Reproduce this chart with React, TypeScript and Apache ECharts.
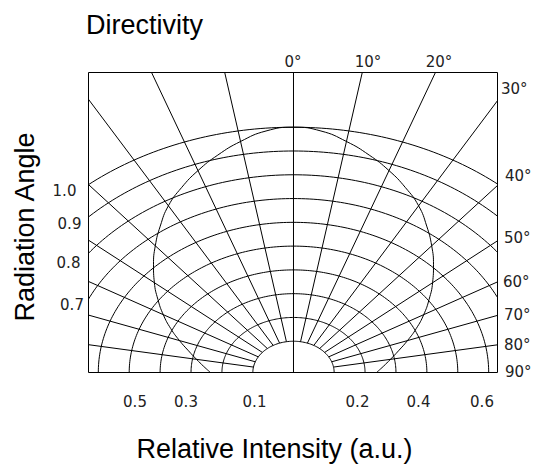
import React, { useEffect, useRef } from "react";
import * as echarts from "echarts";

// ---- data ----
const RING_VALUES = [0.1, 0.2, 0.3, 0.4, 0.5, 0.6, 0.7, 0.8, 0.9, 1.0];
const RAY_ANGLES = [-80, -70, -60, -50, -40, -30, -20, -10, 0, 10, 20, 30, 40, 50, 60, 70, 80];
const PATTERN_ANGLES = [
  -90, -85, -80, -75, -70, -65, -60, -55, -50, -45, -40, -35, -30, -25, -20, -15, -10, -5,
  0, 5, 10, 15, 20, 25, 30, 35, 40, 45, 50, 55, 60, 65, 70, 75, 80, 85, 90,
];
const PATTERN_VALUES = [
  0.237, 0.26, 0.287, 0.32, 0.361, 0.407, 0.455, 0.504, 0.556, 0.609, 0.664, 0.72, 0.778, 0.826, 0.872, 0.915, 0.955, 0.988,
  1.0, 0.988, 0.955, 0.915, 0.872, 0.826, 0.778, 0.72, 0.664, 0.609, 0.556, 0.504, 0.455, 0.407, 0.361, 0.32, 0.287, 0.26, 0.237,
];
const TOP_ANGLE_LABELS = ["0°", "10°", "20°"];
const RIGHT_ANGLE_LABELS = ["30°", "40°", "50°", "60°", "70°", "80°", "90°"];
const LEFT_INTENSITY_LABELS = ["1.0", "0.9", "0.8", "0.7"];
const BOTTOM_INTENSITY_LABELS = ["0.5", "0.3", "0.1", "0.2", "0.4", "0.6"];

// ---- layout (pixels) ----
const TOP_LABEL_POS = [[293, 61.5], [368, 61.5], [439, 61.5]];
const RIGHT_LABEL_POS = [[501, 88.5], [505, 176], [504, 238], [503, 282], [504, 315], [504, 345], [505, 372]];
const LEFT_LABEL_POS = [[64.5, 190.5], [69.5, 224], [68.5, 262.5], [72, 305]];
const BOTTOM_LABEL_POS = [[135, 402], [186, 402], [254.5, 402], [357.5, 402], [418.5, 402], [482, 402]];

const R_OFFSET = 0.0315; // radial origin offset of the diagram
const toXY = (deg: number, v: number) => {
  const r = v + R_OFFSET;
  const t = (deg * Math.PI) / 180;
  return [r * Math.sin(t), r * Math.cos(t)];
};

const LINE = { color: "#000", width: 1 };
const TICK_FONT = "15px 'DejaVu Sans', sans-serif";
const TITLE_FONT = "27px 'Liberation Sans', Arial, sans-serif";

export default function App() {
  const ref = useRef<HTMLDivElement>(null);
  useEffect(() => {
    if (!ref.current) return;
    const chart = echarts.init(ref.current, undefined, { renderer: "svg" });

    const series: any[] = [];
    RING_VALUES.forEach((v) => {
      const pts: number[][] = [];
      for (let a = -90; a <= 90; a += 1) pts.push(toXY(a, v));
      series.push({
        type: "line", data: pts, showSymbol: false, clip: true, silent: true,
        lineStyle: LINE, z: 2,
      });
    });
    RAY_ANGLES.forEach((a) => {
      const start = a === 0 ? [0, 0] : toXY(a, RING_VALUES[0]);
      series.push({
        type: "line", data: [start, toXY(a, 3)], showSymbol: false, clip: true, silent: true,
        lineStyle: LINE, z: 2,
      });
    });
    series.push({
      type: "line",
      name: "Directivity",
      data: PATTERN_ANGLES.map((a, i) => toXY(a, PATTERN_VALUES[i])),
      showSymbol: false, smooth: 0.5, clip: true, silent: true,
      lineStyle: LINE, z: 3,
    });

    const texts: any[] = [];
    const tick = (t: string, p: number[], align: string) => ({
      type: "text", x: p[0], y: p[1],
      style: { text: t, font: TICK_FONT, fill: "#222", align, verticalAlign: "middle" },
    });
    TOP_ANGLE_LABELS.forEach((t, i) => texts.push(tick(t, TOP_LABEL_POS[i], "center")));
    RIGHT_ANGLE_LABELS.forEach((t, i) => texts.push(tick(t, RIGHT_LABEL_POS[i], "left")));
    LEFT_INTENSITY_LABELS.forEach((t, i) => texts.push(tick(t, LEFT_LABEL_POS[i], "center")));
    BOTTOM_INTENSITY_LABELS.forEach((t, i) => texts.push(tick(t, BOTTOM_LABEL_POS[i], "center")));
    texts.push({
      type: "text", x: 86, y: 25,
      style: { text: "Directivity", font: TITLE_FONT, fill: "#000", align: "left", verticalAlign: "middle" },
    });
    texts.push({
      type: "text", x: 25, y: 227, rotation: Math.PI / 2,
      style: { text: "Radiation Angle", font: TITLE_FONT, fill: "#000", align: "center", verticalAlign: "middle" },
    });
    texts.push({
      type: "text", x: 274.5, y: 449,
      style: { text: "Relative Intensity (a.u.)", font: TITLE_FONT, fill: "#000", align: "center", verticalAlign: "middle" },
    });

    chart.setOption({
      animation: false,
      backgroundColor: "#fff",
      grid: {
        left: 88.5, top: 72.5, width: 409, height: 300,
        show: true, borderColor: "#000", borderWidth: 1, backgroundColor: "transparent",
        containLabel: false,
      },
      xAxis: { type: "value", min: -0.6632, max: 0.66, show: false },
      yAxis: { type: "value", min: 0, max: 1.2616, show: false },
      series,
      graphic: texts,
    });
    return () => chart.dispose();
  }, []);
  return <div ref={ref} style={{ width: 539, height: 468, position: "absolute", left: 0, top: 0 }} />;
}
